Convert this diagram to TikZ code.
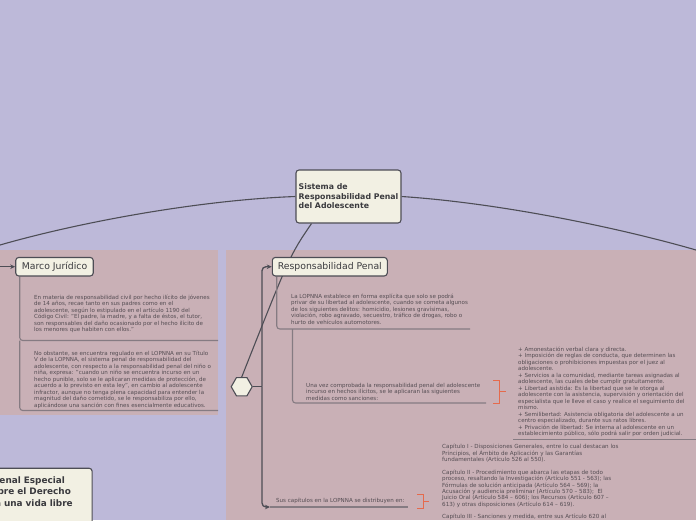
\documentclass[tikz,border=0pt]{standalone}
\usepackage{fontspec}
\setmainfont{DejaVu Sans}
\usetikzlibrary{shapes.geometric,arrows.meta}
\definecolor{bgl}{HTML}{BDB9D9}
\definecolor{pnk}{HTML}{C9B0B6}
\definecolor{cream}{HTML}{F2F0E3}
\definecolor{bord}{HTML}{4D4D55}
\definecolor{txt}{HTML}{554D53}
\definecolor{ttl}{HTML}{3A3A3E}
\definecolor{subl}{HTML}{857B82}
\definecolor{orng}{HTML}{E56A4C}
\pgfdeclarelayer{back}
\pgfdeclarelayer{lines}
\pgfsetlayers{back,lines,main}
\begin{document}
\begin{tikzpicture}[x=1pt,y=-1pt,
  topic/.style={draw=bord, fill=cream, rounded corners=3pt, line width=1.1pt, text=ttl},
  bodytext/.style={anchor=north west, inner sep=0pt, align=left, text=txt, font=\fontsize{5.55}{6.5}\selectfont},
  mainline/.style={draw=bord, line width=1.1pt},
  spine/.style={draw=bord, line width=1.3pt, rounded corners=4pt},
  subline/.style={draw=subl, line width=1.1pt, rounded corners=3pt},
  brk/.style={draw=orng, line width=1pt},
  tip/.style={-{Stealth[length=5pt,width=4.5pt]}}
]
\useasboundingbox (0,0) rectangle (696,520);
\clip (0,0) rectangle (696,520);
\begin{pgfonlayer}{back}
\fill[bgl] (0,0) rectangle (696,520);
\fill[pnk] (0,250) rectangle (218,415);
\fill[pnk] (226,250) rectangle (696,520);
\end{pgfonlayer}

% main nodes
\node[topic, font=\bfseries\fontsize{7.8}{9.5}\selectfont, minimum width=105pt, minimum height=53pt, inner xsep=1.5pt, align=left] (center) at (348.5,196.5) {Sistema de\\Responsabilidad Penal\\del Adolescente};
\node[topic, font=\fontsize{9.3}{11}\selectfont, minimum width=77.5pt, minimum height=18.5pt, inner sep=1pt] (marco) at (54.5,266.7) {Marco Jurídico};
\node[topic, font=\fontsize{9.3}{11}\selectfont, minimum width=115pt, minimum height=18.5pt, inner sep=1pt] (resp) at (329.8,266.7) {Responsabilidad Penal};
\node[regular polygon, regular polygon sides=6, minimum size=21pt, draw=bord, fill=cream, line width=1.1pt, inner sep=0pt] (hex) at (241.7,386.7) {};
\node[topic, font=\bfseries\fontsize{8.9}{11.5}\selectfont, anchor=north east, text width=100pt, inner xsep=6pt, inner ysep=8pt, text depth=40pt, align=left] (bl) at (92.7,467.7) {\hspace*{6.8pt}Penal Especial\\sobre el Derecho\\\hspace*{8.9pt}a una vida libre};

% coordinates
\coordinate (lend) at (0,245);
\coordinate (rend) at (696,250);
\coordinate (marcoin) at (0,266.7);
\coordinate (sp) at (262,386.7);
\coordinate (susl) at (270,507);
\coordinate (susr) at (408,507);
\coordinate (m1e) at (218,340.5);
\coordinate (m2e) at (218,410.5);
\coordinate (r1e) at (470,329);
\coordinate (r2s) at (292.5,329);
\coordinate (r2e) at (486,403);
\coordinate (lu1) at (513,439.5);
\coordinate (lu2) at (696,439.5);

% main connectors
\begin{pgfonlayer}{lines}
\draw[mainline] (center.west) .. controls (200,200) and (80,222) .. (lend);
\draw[mainline] (center.east) .. controls (500,203) and (620,228) .. (rend);
\draw[mainline] ([xshift=-37pt]center.south) .. controls (290,255) .. (hex.north);
\draw[mainline, tip] (marcoin) -- (marco.west);
\draw[spine] (hex.east) -- (sp);
\draw[spine, tip] (sp) |- (resp.west);
\draw[spine, tip] (sp) |- (susl);
\draw[subline] ([xshift=4.5pt]marco.south west) |- (m1e);
\draw[subline] ([xshift=4.5pt]marco.south west |- m1e) |- (m2e);
\draw[subline] ([xshift=5pt]resp.south west) |- (r1e);
\draw[subline] (r2s) |- (r2e);
\draw[subline] (lu1) -- (lu2);
\draw[subline] (susl) -- (susr);
\draw[brk] (493,380) -- (499,380) -- (499,403) -- (493,403);
\draw[brk] (499,391.5) -- (506,391.5);
\draw[brk] (417,494) -- (423,494) -- (423,508) -- (417,508);
\draw[brk] (423,501) -- (429,501);
\end{pgfonlayer}

% Marco Juridico branch
\node[bodytext] (m1) at (34,294.6) {En materia de responsabilidad civil por hecho ilícito de jóvenes\\de 14 años, recae tanto en sus padres como en el\\adolescente, según lo estipulado en el artículo 1190 del\\Código Civil: "El padre, la madre, y a falta de éstos, el tutor,\\son responsables del daño ocasionado por el hecho ilícito de\\los menores que habiten con ellos."};
\node[bodytext] (m2) at (34,350.6) {No obstante, se encuentra regulado en el LOPNNA en su Título\\V de la LOPNNA, el sistema penal de responsabilidad del\\adolescente, con respecto a la responsabilidad penal del niño o\\niña, expresa: "cuando un niño se encuentra incurso en un\\hecho punible, solo se le aplicaran medidas de protección, de\\acuerdo a lo previsto en esta ley", en cambio al adolescente\\infractor, aunque no tenga plena capacidad para entender la\\magnitud del daño cometido, se le responsabiliza por ello,\\aplicándose una sanción con fines esencialmente educativos.};

% Responsabilidad Penal branch
\node[bodytext] (r1) at (291,293.6) {La LOPNNA establece en forma explícita que solo se podrá\\privar de su libertad al adolescente, cuando se cometa algunos\\de los siguientes delitos: homicidio, lesiones gravísimas,\\violación, robo agravado, secuestro, tráfico de drogas, robo o\\hurto de vehículos automotores.};
\node[bodytext] (r2) at (306,382.6) {Una vez comprobada la responsabilidad penal del adolescente\\incurso en hechos ilícitos, se le aplicaran las siguientes\\medidas como sanciones:};
\node[bodytext] (list) at (518,346.6) {+ Amonestación verbal clara y directa.\\+ Imposición de reglas de conducta, que determinen las\\obligaciones o prohibiciones impuestas por el juez al\\adolescente.\\+ Servicios a la comunidad, mediante tareas asignadas al\\adolescente, las cuales debe cumplir gratuitamente.\\+ Libertad asistida: Es la libertad que se le otorga al\\adolescente con la asistencia, supervisión y orientación del\\especialista que le lleve el caso y realice el seguimiento del\\mismo.\\+ Semilibertad: Asistencia obligatoria del adolescente a un\\centro especializado, durante sus ratos libres.\\+ Privación de libertad: Se interna al adolescente en un\\establecimiento público, sólo podrá salir por orden judicial.};

\node[bodytext, anchor=base west] (sus) at (276,502) {Sus capítulos en la LOPNNA se distribuyen en:};
\node[bodytext, font=\fontsize{5.6}{6.3}\selectfont] (chap) at (442,443.6) {Capítulo I - Disposiciones Generales, entre lo cual destacan los\\Principios, el Ámbito de Aplicación y las Garantías\\fundamentales (Artículo 526 al 550).\\[6.3pt]Capítulo II - Procedimiento que abarca las etapas de todo\\proceso, resaltando la Investigación (Artículo 551 - 563); las\\Fórmulas de solución anticipada (Artículo 564 – 569); la\\Acusación y audiencia preliminar (Artículo 570 – 583);\ \ El\\Juicio Oral (Artículo 584 – 606); los Recursos (Artículo 607 –\\613) y otras disposiciones (Artículo 614 – 619).\\[6.3pt]Capítulo III - Sanciones y medida, entre sus Artículo 620 al};
\end{tikzpicture}
\end{document}
